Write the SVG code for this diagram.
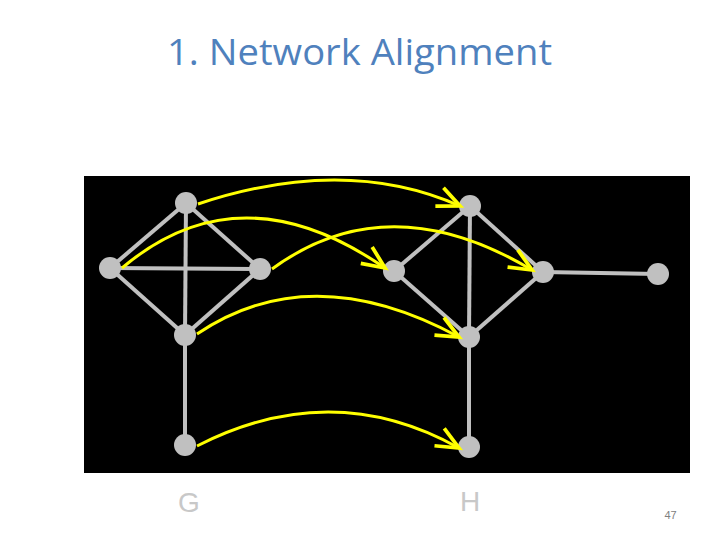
<svg xmlns="http://www.w3.org/2000/svg" width="720" height="540" viewBox="0 0 720 540">
<defs>
<style>
.edge{stroke:#c0c0c0;stroke-width:4;fill:none}
.node{fill:#c0c0c0}
.map{stroke:#ffff00;stroke-width:3;fill:none;marker-end:url(#ah)}
.lbl{font-family:"Liberation Sans",Arial,sans-serif;font-size:28px;fill:#c8c8c8;text-anchor:middle}
</style>
<marker id="ah" markerUnits="userSpaceOnUse" markerWidth="30" markerHeight="30" viewBox="-20 -12 24 24" refX="0" refY="0" orient="auto">
<path d="M-18,-8 L0,0 L-18,8" fill="none" stroke="#ffff00" stroke-width="3"/>
</marker>
</defs>
<rect width="720" height="540" fill="#ffffff"/>
<text x="167" y="65" font-family="'Open Sans','Liberation Sans',sans-serif" font-size="37" fill="#4f81bd" textLength="385" lengthAdjust="spacingAndGlyphs">1. Network Alignment</text>
<rect id="panel" x="84" y="176" width="606" height="297" fill="#000000"/>
<g id="graphG-edges">
<line class="edge" x1="186" y1="203" x2="110" y2="268"/>
<line class="edge" x1="186" y1="203" x2="260" y2="269"/>
<line class="edge" x1="186" y1="203" x2="185" y2="335"/>
<line class="edge" x1="110" y1="268" x2="260" y2="269"/>
<line class="edge" x1="110" y1="268" x2="185" y2="335"/>
<line class="edge" x1="260" y1="269" x2="185" y2="335"/>
<line class="edge" x1="185" y1="335" x2="185" y2="445"/>
</g>
<g id="graphH-edges">
<line class="edge" x1="470" y1="206" x2="394" y2="271"/>
<line class="edge" x1="470" y1="206" x2="543" y2="272"/>
<line class="edge" x1="470" y1="206" x2="469" y2="337"/>
<line class="edge" x1="394" y1="271" x2="469" y2="337"/>
<line class="edge" x1="543" y1="272" x2="469" y2="337"/>
<line class="edge" x1="543" y1="272" x2="658" y2="274"/>
<line class="edge" x1="469" y1="337" x2="469" y2="447"/>
</g>
<g id="G1"><circle class="node" cx="186" cy="203" r="11"/></g>
<g id="G2"><circle class="node" cx="110" cy="268" r="11"/></g>
<g id="G3"><circle class="node" cx="260" cy="269" r="11"/></g>
<g id="G4"><circle class="node" cx="185" cy="335" r="11"/></g>
<g id="G5"><circle class="node" cx="185" cy="445" r="11"/></g>
<g id="H1"><circle class="node" cx="470" cy="206" r="11"/></g>
<g id="H2"><circle class="node" cx="394" cy="271" r="11"/></g>
<g id="H3"><circle class="node" cx="543" cy="272" r="11"/></g>
<g id="H4"><circle class="node" cx="469" cy="337" r="11"/></g>
<g id="H5"><circle class="node" cx="469" cy="447" r="11"/></g>
<g id="H6"><circle class="node" cx="658" cy="274" r="11"/></g>
<g id="connectors">
<path class="map" d="M198,204 Q345,155 460,206"/>
<path class="map" d="M122,268 Q240,168 385,268"/>
<path class="map" d="M272,269 Q388,184 532,270"/>
<path class="map" d="M197,334 Q311,257 459,337"/>
<path class="map" d="M197,446 Q332,377 459,448"/>
</g>
<text class="lbl" x="189" y="512">G</text>
<text class="lbl" x="470" y="511">H</text>
<text x="670.5" y="519" font-family="'Liberation Sans',Arial,sans-serif" font-size="11" fill="#808080" text-anchor="middle">47</text>
</svg>
